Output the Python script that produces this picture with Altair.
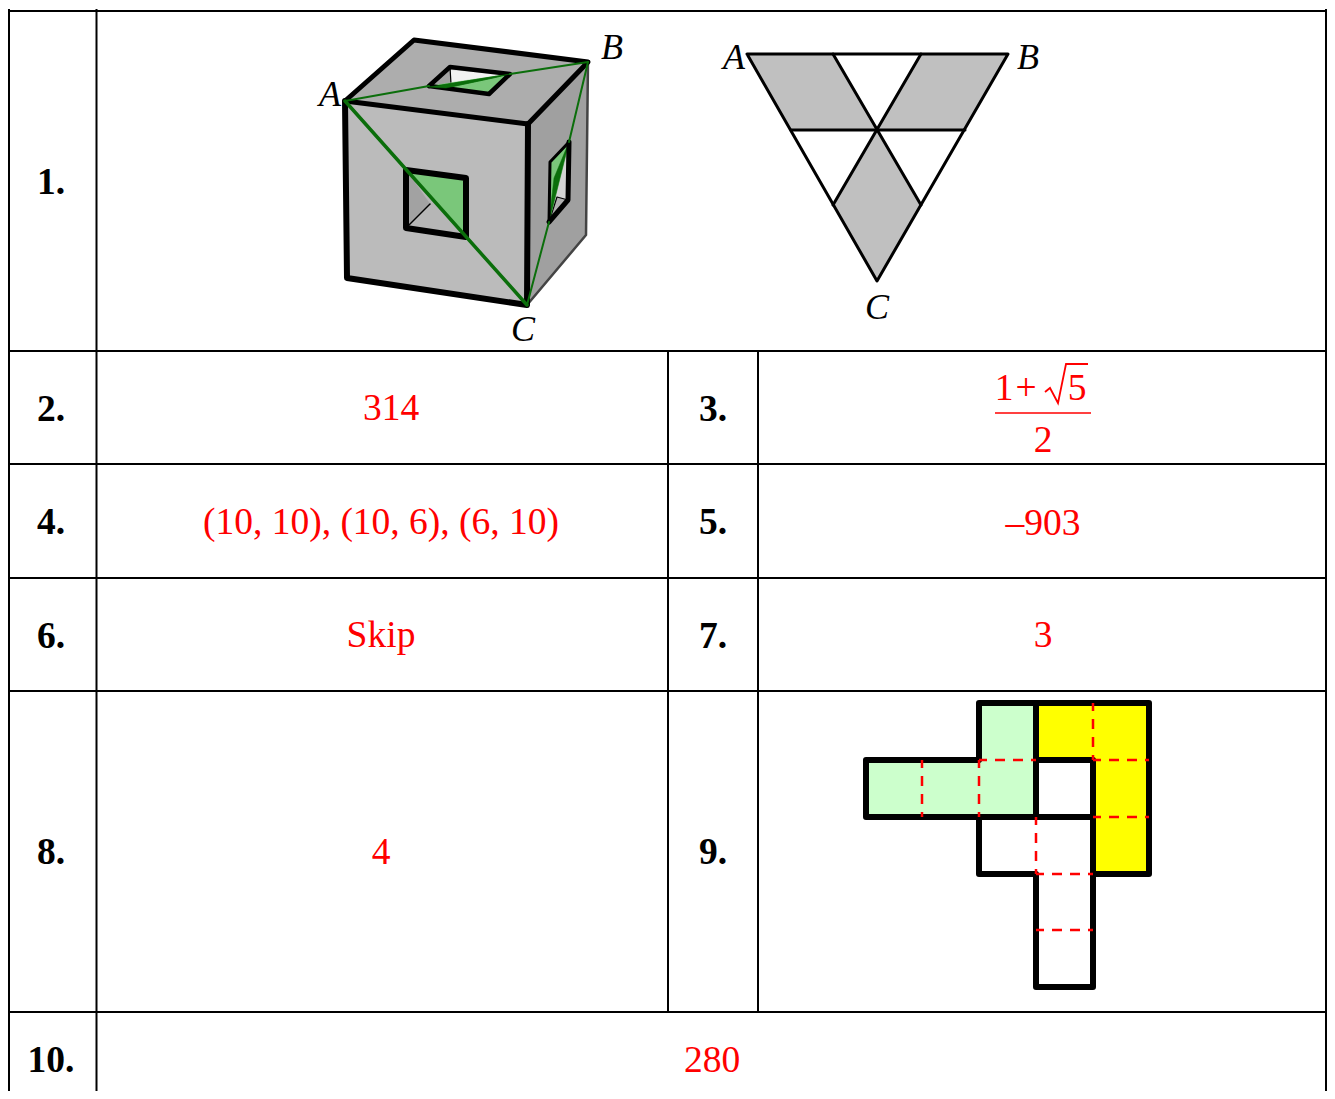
import altair as alt
import pandas as pd

W, H = 1319, 1083
xs = alt.Scale(domain=[8, 8 + W], nice=False, zero=False)
ys = alt.Scale(domain=[8 + H, 8], nice=False, zero=False)

# --- table rules (x0, y0, x1, y1)
table_rules = [
    (8, 11, 1326, 11), (8, 351, 1326, 351), (8, 464, 1326, 464), (8, 578, 1326, 578),
    (8, 691, 1326, 691), (8, 1012, 1326, 1012),
    (9, 10, 9, 1091), (96.5, 10, 96.5, 1091), (1326, 10, 1326, 1091),
    (668, 351, 668, 1012), (758, 351, 758, 1012),
]

# --- cube
A, B, C = (345, 101), (588, 62), (527, 305)
back, near, bl, rb = (414, 40), (528, 124), (347, 278), (586, 235)
cube_front = [A, near, C, bl]
cube_top = [A, back, B, near]
cube_right = [near, B, rb, C]
fh = [(406, 170), (466, 178), (466, 237), (406, 228)]
fh_in = (430, 204)
th = [(429, 86), (450, 67), (510, 74), (489, 94)]
th_wedge = [(429, 87), (510, 74), (493, 78), (446, 88)]
rh = [(550, 162), (569, 142), (568, 200), (549, 222)]
rh_in = (557, 197)
rh_wedge = [(569, 142), (549, 222), (554, 178)]

# --- triangle net
tri_gray = [
    [(747, 54), (833, 54), (877, 130), (791, 130)],
    [(921, 54), (1008, 54), (965, 130), (877, 130)],
    [(877, 130), (921, 205), (877, 281), (833, 205)],
]
tri_lines = [
    [(747, 54), (1008, 54), (877, 281), (747, 54)],
    [(791, 130), (965, 130)],
    [(833, 54), (921, 205)],
    [(921, 54), (833, 205)],
]

# --- cross net
net_green = [(866, 760), (979, 760), (979, 703), (1036, 703), (1036, 817), (866, 817)]
net_yellow = [(1036, 703), (1149, 703), (1149, 874), (1093, 874), (1093, 760), (1036, 760)]
net_black = [
    [(866, 760), (979, 760), (979, 703), (1149, 703), (1149, 874), (1093, 874), (1093, 987),
     (1036, 987), (1036, 874), (979, 874), (979, 817), (866, 817), (866, 760)],
    [(1036, 703), (1036, 817)],
    [(1036, 760), (1093, 760), (1093, 874)],
    [(979, 817), (1093, 817)],
]
net_red = [
    [(922, 760), (922, 817)], [(979, 760), (979, 817)], [(979, 760), (1036, 760)],
    [(1093, 703), (1093, 760)], [(1093, 760), (1149, 760)], [(1093, 817), (1149, 817)],
    [(1036, 817), (1036, 874)], [(1036, 874), (1093, 874)], [(1036, 930), (1093, 930)],
]

# --- texts
row_labels = [("1.", 51, 194), ("2.", 51, 421), ("3.", 713, 421), ("4.", 51, 534), ("5.", 713, 534),
              ("6.", 51, 648), ("7.", 713, 648), ("8.", 51, 864), ("9.", 713, 864), ("10.", 51, 1072)]
answers = [("314", 391, 420), ("(10, 10), (10, 6), (6, 10)", 381, 534), ("–903", 1043, 535),
           ("Skip", 381, 647), ("3", 1043, 647), ("4", 381, 864), ("280", 712, 1072),
           ("1", 1004, 400), ("+", 1026, 400), ("5", 1077, 400), ("2", 1043, 452)]
points_lbl = [("A", 330, 106), ("B", 612, 59), ("C", 523, 341),
              ("A", 734, 69), ("B", 1028, 69), ("C", 877, 319)]
frac_bar = [(995, 413), (1091, 413)]
radical = [(1045, 392), (1050, 388), (1058, 403), (1066, 364), (1088, 364)]


def path(pts, close=False, **mark):
    pts = list(pts) + ([pts[0]] if close else [])
    df = pd.DataFrame({"x": [p[0] for p in pts], "y": [p[1] for p in pts], "i": range(len(pts))})
    return alt.Chart(df).mark_line(**mark).encode(
        x=alt.X("x:Q", scale=xs, axis=None), y=alt.Y("y:Q", scale=ys, axis=None),
        order="i:Q")


def fill(pts, color):
    return path(pts, True, fill=color, stroke=color, strokeWidth=0.5)


def edge(pts, width, color="#000000", close=False, **kw):
    return path(pts, close, stroke=color, strokeWidth=width, strokeJoin="round",
                strokeCap="round", **kw)


def text(rows, size, color, **kw):
    df = pd.DataFrame(rows, columns=["t", "x", "y"])
    return alt.Chart(df).mark_text(font="Liberation Serif", fontSize=size, color=color,
                                   align="center", baseline="alphabetic", **kw).encode(
        x=alt.X("x:Q", scale=xs, axis=None), y=alt.Y("y:Q", scale=ys, axis=None), text="t:N")


LG = "#7ac77a"
DG = "#0b6e0b"
layers = []
for r in table_rules:
    layers.append(path([(r[0], r[1]), (r[2], r[3])], stroke="#000000", strokeWidth=2, strokeCap="square"))

layers += [fill(cube_front, "#bbbbbb"), fill(cube_top, "#adadad"), fill(cube_right, "#a0a0a0")]
# front hole
layers += [fill(fh, "#b6b6b6"), fill([fh[0], fh[3], fh_in], "#a2a2a2"), fill([fh[0], fh[1], fh[2]], LG),
           edge([fh[3], fh_in], 1.5), edge(fh, 6, close=True)]
# top hole
layers += [fill(th, "#b6b6b6"), fill([th[0], th[1], (451, 84)], "#a2a2a2"),
           fill([(451, 70), (506, 75), (451, 84)], "#f2f2f2"),
           edge([th[1], (451, 84)], 1.2),
           fill([th[0], th[2], th[3]], LG), fill(th_wedge, DG),
           edge(th, 4.5, close=True), fill(th_wedge, DG)]
# right hole
layers += [fill(rh, "#d4d4d4"), fill([rh[3], rh_in, rh[2]], "#b0b0b0"),
           edge([rh[3], rh_in, rh[2]], 1.2),
           fill([rh[0], rh[1], rh[3]], LG), fill(rh_wedge, DG),
           edge(rh[1:], 5), edge([rh[3], rh[0], rh[1]], 3)]
# cube edges
layers += [edge([B, rb, C], 2.5, "#444444"),
           edge([A, back, B, near, A], 5), edge([A, bl, C, near], 6),
           edge([A, C], 3.5, DG), edge([A, (429, 86)], 2, DG), edge([(510, 74), B], 2, DG),
           edge([(569, 142), B], 2, DG), edge([(549, 222), C], 2, DG)]

# triangle
layers += [fill(p, "#c0c0c0") for p in tri_gray]
layers += [edge(p, 3) for p in tri_lines]

# cross net
layers += [fill(net_green, "#ccffcc"), fill(net_yellow, "#ffff00")]
layers += [edge(p, 6) for p in net_black]
layers += [path(p, stroke="#ff0000", strokeWidth=2.5, strokeDash=[10, 8], strokeDashOffset=2) for p in net_red]

# fraction
layers += [path(frac_bar, stroke="#ff0000", strokeWidth=1.5),
           path(radical, stroke="#ff0000", strokeWidth=1.8, strokeJoin="miter")]

layers += [text(row_labels, 37.5, "#000000", fontWeight="bold"),
           text(answers, 37.5, "#ff0000"),
           text(points_lbl, 36, "#000000", fontStyle="italic")]

chart = alt.layer(*layers).properties(
    width=W, height=H, padding=0, autosize=alt.AutoSizeParams(type="none"),
    background="#ffffff"
).configure_view(stroke=None)

chart.save("out.html", embed_options={"renderer": "svg", "actions": False})
